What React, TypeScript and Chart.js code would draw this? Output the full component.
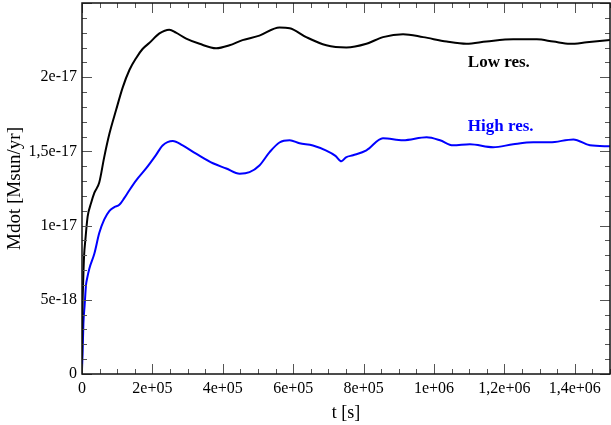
import React, { useEffect, useRef } from 'react';
import { Chart, registerables } from 'chart.js';

Chart.register(...registerables);

// Low resolution run: time [s] and Mdot [Msun/yr]
const lowResT = [
  0, 1500, 3700, 6000, 9400, 16000, 25600, 35000, 49000, 63000, 78000, 97000,
  115500, 135000, 154000, 172000, 191000, 220000, 248000, 267000, 296000, 334000,
  381000, 419000, 456000, 504000, 561000, 590000, 637000, 694000, 751000, 808000,
  855000, 912000, 969000, 1036000, 1092000, 1149000, 1225000, 1292000, 1339000,
  1386000, 1434000, 1500000,
];
const lowResV = [
  1.0e-18, 4.5e-18, 6.5e-18, 8.0e-18, 9.0e-18, 10.6e-18, 11.5e-18, 12.2e-18, 12.9e-18,
  14.6e-18, 16.2e-18, 17.8e-18, 19.3e-18, 20.5e-18, 21.3e-18, 21.9e-18, 22.3e-18,
  22.95e-18, 23.2e-18, 23.0e-18, 22.6e-18, 22.25e-18, 21.95e-18, 22.15e-18, 22.5e-18,
  22.8e-18, 23.35e-18, 23.3e-18, 22.7e-18, 22.15e-18, 22.0e-18, 22.25e-18, 22.7e-18,
  22.9e-18, 22.7e-18, 22.4e-18, 22.25e-18, 22.4e-18, 22.55e-18, 22.55e-18, 22.4e-18,
  22.25e-18, 22.35e-18, 22.5e-18,
];

// High resolution run
const highResT = [
  0, 1700, 4000, 7400, 11400, 14200, 20800, 35000, 49000, 63000, 78000, 92000,
  106000, 120000, 135000, 154000, 182000, 210000, 229000, 258000, 286000, 324000,
  372000, 410000, 448000, 476000, 504000, 533000, 561000, 590000, 618000, 656000,
  694000, 720000, 737000, 750000, 770000, 808000, 855000, 912000, 979000, 1017000,
  1054000, 1102000, 1168000, 1225000, 1282000, 1329000, 1396000, 1443000, 1500000,
];
const highResV = [
  0.3e-18, 1.4e-18, 3.4e-18, 4.6e-18, 6.0e-18, 6.4e-18, 7.1e-18, 8.1e-18, 9.5e-18,
  10.4e-18, 11.0e-18, 11.25e-18, 11.4e-18, 11.85e-18, 12.4e-18, 13.05e-18, 13.85e-18,
  14.75e-18, 15.4e-18, 15.7e-18, 15.4e-18, 14.85e-18, 14.2e-18, 13.85e-18, 13.5e-18,
  13.6e-18, 14.05e-18, 14.95e-18, 15.6e-18, 15.75e-18, 15.55e-18, 15.4e-18, 15.05e-18,
  14.7e-18, 14.33e-18, 14.6e-18, 14.74e-18, 15.07e-18, 15.88e-18, 15.75e-18, 15.95e-18,
  15.75e-18, 15.41e-18, 15.48e-18, 15.28e-18, 15.48e-18, 15.61e-18, 15.61e-18,
  15.81e-18, 15.41e-18, 15.34e-18,
];

const seriesNames = ['Low res.', 'High res.'];
const seriesColors = ['#000000', '#0000ff'];
// in-plot label anchors (data coordinates)
const labelT = [1.096e6, 1.096e6];
const labelV = [2.1e-17, 1.67e-17];

const xTickValues = [0, 2e5, 4e5, 6e5, 8e5, 1e6, 1.2e6, 1.4e6];
const xTickLabels = ['0', '2e+05', '4e+05', '6e+05', '8e+05', '1e+06', '1,2e+06', '1,4e+06'];
const yTickValues = [0, 5e-18, 1e-17, 1.5e-17, 2e-17];
const yTickLabels = ['0', '5e-18', '1e-17', '1,5e-17', '2e-17'];
const xRange = [0, 1.5e6];
const yRange = [0, 2.5e-17];
const xMinorStep = 5e4;
const xMinorPerMajor = 4;
const yMinorStep = 1e-18;
const yMinorPerMajor = 5;

const xTitle = 't [s]';
const yTitle = 'Mdot [Msun/yr]';

const SERIF = '"Liberation Serif", "Times New Roman", Times, serif';

const framePlugin = {
  id: 'frameTicks',
  afterDraw(chart: any) {
    const { ctx, chartArea, scales } = chart;
    const { left, right, top, bottom } = chartArea;
    const xs = scales.x;
    const ys = scales.y;
    ctx.save();
    ctx.strokeStyle = '#555555';
    ctx.lineWidth = 1;
    ctx.beginPath();
    const nx = Math.round((xRange[1] - xRange[0]) / xMinorStep);
    for (let i = 0; i <= nx; i++) {
      const v = xRange[0] + i * xMinorStep;
      const px = Math.round(xs.getPixelForValue(v)) + 0.5;
      const len = i % xMinorPerMajor === 0 ? 10 : 5;
      ctx.moveTo(px, bottom);
      ctx.lineTo(px, bottom - len);
      ctx.moveTo(px, top);
      ctx.lineTo(px, top + len);
    }
    const ny = Math.round((yRange[1] - yRange[0]) / yMinorStep);
    for (let i = 0; i <= ny; i++) {
      const v = yRange[0] + i * yMinorStep;
      const py = Math.round(ys.getPixelForValue(v)) + 0.5;
      const len = i % yMinorPerMajor === 0 ? 10 : 5;
      ctx.moveTo(left, py);
      ctx.lineTo(left + len, py);
      ctx.moveTo(right, py);
      ctx.lineTo(right - len, py);
    }
    ctx.stroke();
    ctx.strokeStyle = '#111111';
    ctx.lineWidth = 1.5;
    ctx.strokeRect(left, top, right - left, bottom - top);

    ctx.font = `bold 17px ${SERIF}`;
    ctx.textAlign = 'left';
    ctx.textBaseline = 'middle';
    for (let i = 0; i < seriesNames.length; i++) {
      ctx.fillStyle = seriesColors[i];
      ctx.fillText(seriesNames[i], xs.getPixelForValue(labelT[i]), ys.getPixelForValue(labelV[i]));
    }
    ctx.restore();
  },
};

export default function App() {
  const canvasRef = useRef<HTMLCanvasElement | null>(null);

  useEffect(() => {
    const canvas = canvasRef.current;
    if (!canvas) return;
    const chart = new Chart(canvas, {
      type: 'line',
      data: {
        datasets: [
          {
            label: seriesNames[0],
            data: lowResT.map((t, i) => ({ x: t, y: lowResV[i] })),
            borderColor: seriesColors[0],
            borderWidth: 2,
            pointRadius: 0,
            fill: false,
            cubicInterpolationMode: 'monotone',
          },
          {
            label: seriesNames[1],
            data: highResT.map((t, i) => ({ x: t, y: highResV[i] })),
            borderColor: seriesColors[1],
            borderWidth: 2,
            pointRadius: 0,
            fill: false,
            cubicInterpolationMode: 'monotone',
          },
        ],
      },
      options: {
        animation: false,
        responsive: false,
        devicePixelRatio: 1,
        layout: { padding: { top: 3, right: 1, left: 0, bottom: 0 } },
        plugins: {
          legend: { display: false },
          tooltip: { enabled: false },
        },
        scales: {
          x: {
            type: 'linear',
            min: xRange[0],
            max: xRange[1],
            grid: { display: false, drawTicks: false },
            border: { display: false },
            afterBuildTicks: (scale: any) => {
              scale.ticks = xTickValues.map((v) => ({ value: v }));
            },
            afterFit: (scale: any) => {
              scale.height = 51;
              scale.paddingLeft = 0;
              scale.paddingRight = 0;
            },
            ticks: {
              autoSkip: false,
              maxRotation: 0,
              padding: 5,
              color: '#000',
              font: { family: SERIF, size: 16 },
              callback: (value: any) => {
                const idx = xTickValues.indexOf(Number(value));
                return idx >= 0 ? xTickLabels[idx] : '';
              },
            },
            title: {
              display: true,
              text: xTitle,
              color: '#000',
              font: { family: SERIF, size: 18 },
              padding: { top: 0, bottom: 1 },
            },
          },
          y: {
            type: 'linear',
            min: yRange[0],
            max: yRange[1],
            grid: { display: false, drawTicks: false },
            border: { display: false },
            afterBuildTicks: (scale: any) => {
              scale.ticks = yTickValues.map((v) => ({ value: v }));
            },
            afterFit: (scale: any) => {
              scale.width = 82;
              scale.paddingTop = 0;
              scale.paddingBottom = 0;
            },
            ticks: {
              autoSkip: false,
              padding: 5,
              color: '#000',
              font: { family: SERIF, size: 16 },
              callback: (value: any) => {
                const v = Number(value);
                const idx = yTickValues.findIndex((t) => Math.abs(t - v) < 1e-21);
                return idx >= 0 ? yTickLabels[idx] : '';
              },
            },
            title: {
              display: true,
              text: yTitle,
              color: '#000',
              font: { family: SERIF, size: 19 },
              padding: { top: 4, bottom: 0 },
            },
          },
        },
      },
      plugins: [framePlugin],
    } as any);
    return () => chart.destroy();
  }, []);

  return (
    <div style={{ position: 'fixed', left: 0, top: 0, width: 611, height: 425, background: '#fff' }}>
      <canvas ref={canvasRef} width={611} height={425} style={{ width: 611, height: 425 }} />
    </div>
  );
}
